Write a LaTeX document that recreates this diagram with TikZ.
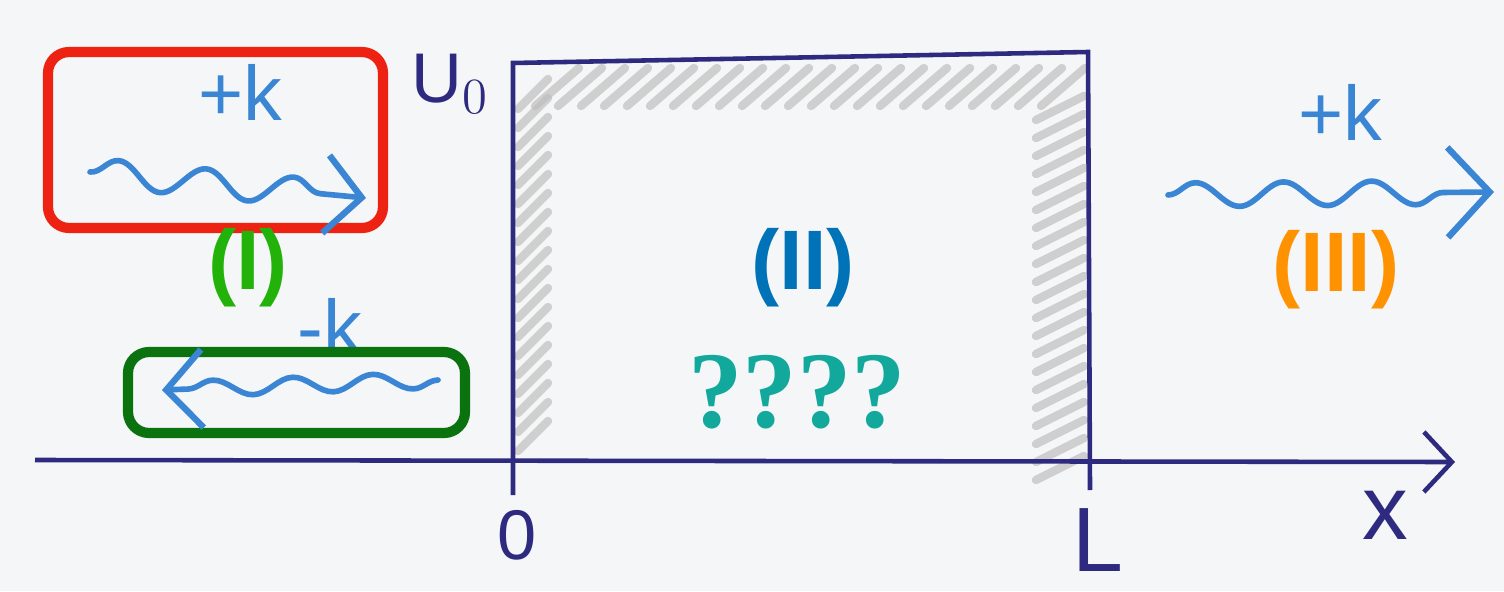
\documentclass[tikz,border=0pt]{standalone}
\usepackage{fontspec}
\setmainfont{Liberation Sans}
\newfontfamily\qfont{Liberation Serif}
\usetikzlibrary{arrows.meta,decorations.pathmorphing}
\definecolor{paper}{HTML}{F5F6F7}
\definecolor{ink}{HTML}{2E2A80}
\definecolor{pencil}{HTML}{3A86D4}
\definecolor{boxred}{HTML}{EE2212}
\definecolor{boxgreen}{HTML}{0A720E}
\definecolor{regI}{HTML}{22B20A}
\definecolor{regII}{HTML}{0072B8}
\definecolor{regIII}{HTML}{FF9200}
\definecolor{quest}{HTML}{12A89C}
\begin{document}
\begin{tikzpicture}[x=0.01cm,y=-0.01cm,
    wave/.style={pencil,line width=1.6pt,line cap=round,line join=round,decorate,
      decoration={snake,amplitude=0.14cm,segment length=0.88cm,post length=0.2cm}},
    barb/.style={-{Straight Barb[length=0.36cm,width=0.78cm,line width=1.8pt]}},
    hand/.style={pencil,font=\fontsize{22}{24}\selectfont},
    penlabel/.style={ink,font=\fontsize{20}{22}\selectfont},
    region/.style={font=\fontsize{24}{26}\selectfont\bfseries},
    hatch/.style={gray!50,line width=2.4pt,line cap=round,opacity=0.7}]

    \useasboundingbox (0,0) rectangle (1504,591);
    \fill[paper] (0,0) rectangle (1504,591);

    % pencil shading inside the barrier
    \foreach \x in {535,558,...,1050}
        \draw[hatch] (\x,106) -- (\x+44,68);
    \foreach \y in {95,114,...,445}
        \draw[hatch] (518,\y+14) -- (548,\y-16);
    \foreach \y in {110,128,...,470}
        \draw[hatch] (1036,\y+10) -- (1084,\y-14);

    \coordinate (o)  at (513,460);
    \coordinate (tl) at (513,63);
    \coordinate (tr) at (1088,52);
    \coordinate (br) at (1090,460);

    \draw[ink,line width=1.3pt,-{Straight Barb[length=0.28cm,width=0.6cm,line width=1.3pt]}]
        (35,460) -- (1455,462);
    \draw[ink,line width=1.3pt] (513,495) -- (tl) -- (tr) -- (1090,490);

    \node[penlabel] (u0) at (450,84) {U$_0$};
    \node[penlabel] (zero) at (517,535) {0};
    \node[penlabel,font=\fontsize{26}{28}\selectfont] (ell) at (1098,540) {L};
    \node[penlabel,font=\fontsize{26}{28}\selectfont] (xlab) at (1385,515) {x};

    % region I
    \draw[boxred,line width=2.9pt,rounded corners=6pt] (48,52) rectangle (383,228);
    \node[hand] (kin) at (240,92) {+k};
    \draw[wave,barb] (90,172) -- (366,198);
    \node[region,regI] (one) at (248,268) {(I)};
    \node[hand] (kref) at (330,326) {-k};
    \draw[boxgreen,line width=2.9pt,rounded corners=6pt] (128,352) rectangle (465,433);
    \draw[wave,barb,decoration={snake,amplitude=0.08cm,segment length=0.8cm,post length=0.2cm}]
        (438,380) -- (162,390);

    % region II
    \node[region,regII] (two) at (803,268) {(II)};
    \node[quest,font=\fontsize{31}{33}\qfont\bfseries] (what) at (797,392) {????};

    % region III
    \node[hand] (kout) at (1340,112) {+k};
    \draw[wave,barb,-{Straight Barb[length=0.42cm,width=0.9cm,line width=1.8pt]},
        decoration={snake,amplitude=0.12cm,segment length=0.88cm,post length=0.2cm}]
        (1168,195) -- (1494,192);
    \node[region,regIII] (three) at (1336,270) {(III)};
\end{tikzpicture}
\end{document}
